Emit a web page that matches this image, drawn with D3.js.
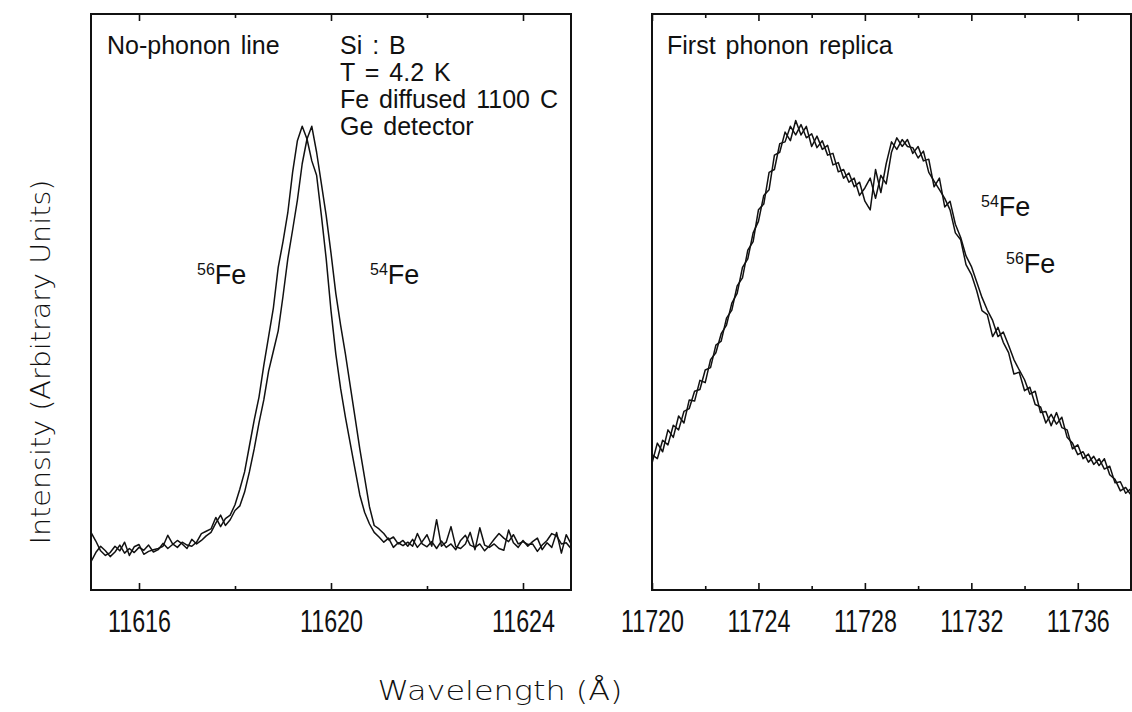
<!DOCTYPE html>
<html lang="en">
<head>
<meta charset="utf-8">
<title>Fe isotope shift - no-phonon line and phonon replica</title>
<script src="https://d3js.org/d3.v7.min.js"></script>
<style>
  body { margin: 0; background: #fff; }
  svg { display: block; }
  .curve { fill: none; stroke: #111; stroke-width: 1.5px; stroke-linejoin: round; }
  .frame { fill: none; stroke: #111; stroke-width: 2px; }
  .axis path { display: none; }
  .axis line { stroke: #111; stroke-width: 1.6px; }
  .tick-lbl { font-family: "Liberation Sans", Arial, sans-serif; font-size: 31px; fill: #111; }
  .note { font-family: "Liberation Sans", Arial, sans-serif; font-size: 25px; fill: #111; word-spacing: 3px; }
  .iso { font-family: "Liberation Sans", Arial, sans-serif; font-size: 27px; fill: #111; }
  .title { font-family: "DejaVu Sans", sans-serif; font-weight: 200; font-size: 27px; fill: #111; }
</style>
</head>
<body>
<svg id="vis" width="1132" height="712"></svg>
<script>
// ---- data (arbitrary intensity units) ----
// no-phonon line, sampled every 0.1 A from 11615 A
var npStart = 11615, npStep = 0.1;
var np56 = [10.0, 8.5, 6.8, 6.0, 6.5, 7.6, 6.8, 8.3, 6.0, 7.5,
  7.9, 6.2, 6.7, 7.0, 7.2, 7.6, 9.5, 8.0, 7.4, 8.3,
  7.8, 7.6, 8.3, 9.8, 10.2, 10.6, 12.6, 11.0, 12.4, 13.0,
  14.8, 17.5, 20.5, 25.0, 29.5, 33.5, 39.0, 44.0, 49.0, 56.0,
  60.5, 65.5, 72.5, 78.0, 80.5, 78.3, 74.5, 72.0, 65.0, 57.5,
  48.5, 41.0, 35.0, 30.0, 25.5, 21.0, 16.5, 13.5, 11.5, 10.0,
  9.2, 8.3, 9.0, 7.4, 8.2, 7.7, 8.3, 7.6, 9.8, 8.0,
  7.5, 8.4, 7.2, 8.5, 7.4, 8.0, 7.0, 8.6, 9.5, 7.8,
  7.4, 8.0, 6.8, 7.7, 8.8, 9.8, 9.0, 8.4, 9.6, 8.0,
  8.4, 7.9, 8.0, 6.7, 7.8, 8.6, 9.8, 9.4, 8.0, 8.2, 7.2];
var np54 = [4.9, 6.5, 7.6, 6.8, 5.8, 6.6, 7.8, 6.4, 7.2, 6.5,
  7.4, 6.9, 7.8, 6.6, 7.0, 8.1, 7.2, 7.9, 8.6, 8.0,
  7.2, 8.8, 8.0, 8.6, 9.4, 10.0, 11.6, 13.0, 11.2, 12.2,
  13.8, 14.6, 17.0, 20.5, 24.5, 29.0, 33.0, 38.0, 41.5, 45.0,
  51.0, 57.5, 62.5, 67.7, 74.0, 78.3, 80.5, 76.0, 70.5, 65.0,
  58.5, 51.5, 46.0, 41.0, 35.5, 30.0, 24.5, 19.5, 14.5, 11.2,
  10.6, 9.8, 8.7, 9.2, 8.0, 8.6, 7.6, 8.8, 7.4, 8.4,
  9.6, 7.6, 12.2, 7.6, 8.3, 11.0, 7.5, 7.2, 8.0, 10.0,
  7.0, 10.8, 7.8, 7.4, 8.0, 7.2, 6.9, 10.4, 8.2, 7.4,
  8.6, 7.6, 8.4, 9.0, 7.0, 8.2, 7.4, 10.0, 6.4, 9.6, 8.0];

// first phonon replica, sampled every 0.2 A from 11720 A
var repStart = 11720, repStep = 0.2;
var rep54 = [22.0, 25.5, 24.0, 27.8, 26.5, 30.2, 29.0, 33.0, 32.8, 36.4,
  36.0, 40.0, 41.2, 44.5, 46.0, 49.8, 51.5, 56.0, 57.5, 62.0,
  64.0, 68.5, 69.5, 75.5, 76.0, 79.5, 78.0, 81.5, 79.0, 80.5,
  77.0, 78.8, 76.5, 77.2, 73.8, 74.2, 71.5, 72.4, 70.0, 70.8,
  67.5, 66.0, 73.0, 69.0, 74.0, 77.8, 76.5, 78.2, 77.0, 76.8,
  75.0, 76.2, 72.5, 71.0, 69.5, 68.0, 66.0, 62.0, 60.8, 56.5,
  54.8, 52.0, 48.5, 47.8, 44.0, 45.6, 43.0, 41.2, 37.5, 37.8,
  34.6, 35.2, 32.2, 31.8, 29.0, 30.5, 28.8, 30.0, 26.5, 25.5,
  23.5, 24.0, 22.2, 23.2, 21.6, 22.8, 20.0, 19.2, 17.2, 17.8, 16.5];
var rep56 = [23.5, 22.8, 26.0, 25.2, 28.6, 27.8, 31.0, 31.5, 34.5, 34.8,
  38.2, 38.6, 42.5, 43.2, 47.2, 48.6, 52.8, 54.2, 59.0, 60.5,
  66.0, 67.0, 72.5, 73.0, 77.5, 77.8, 80.5, 79.0, 80.8, 78.5,
  79.2, 76.8, 78.0, 75.5, 75.8, 72.6, 73.0, 70.8, 71.5, 68.5,
  69.8, 71.5, 68.0, 72.0, 70.5, 76.0, 78.5, 77.0, 78.2, 75.8,
  77.0, 74.5, 74.8, 70.0, 71.5, 66.5, 67.5, 63.5, 61.2, 58.0,
  56.2, 53.5, 50.8, 48.6, 46.8, 44.0, 44.8, 42.5, 40.0, 38.2,
  36.5, 34.0, 34.5, 30.8, 31.0, 28.5, 30.8, 28.2, 27.8, 24.5,
  25.2, 22.8, 23.6, 21.8, 22.8, 21.0, 21.5, 18.6, 18.8, 16.8, 17.6];

var npTicks = [11616, 11620, 11624], npMinor = [11618, 11622];
var repTicks = [11720, 11724, 11728, 11732, 11736], repMinor = [11722, 11726, 11730, 11734, 11738];

var svg = d3.select("#vis"),
    yTop = 14, yBot = 590;

var y = d3.scaleLinear().domain([0, 100]).range([yBot, yTop]);

function pts(vals, start, step) {
  return vals.map(function(v, i) { return [start + i * step, v]; });
}

function panel(id, x0, x1, domain, ticks, minor, series) {
  var x = d3.scaleLinear().domain(domain).range([x0, x1]);
  var g = svg.append("g").attr("id", id);

  g.append("clipPath").attr("id", "clip-" + id)
    .append("rect").attr("x", x0).attr("y", yTop).attr("width", x1 - x0).attr("height", yBot - yTop);

  var line = d3.line()
      .x(function(d) { return x(d[0]); })
      .y(function(d) { return y(d[1]); });

  g.selectAll("path.curve")
    .data(series)
    .enter().append("path")
      .attr("class", "curve")
      .attr("clip-path", "url(#clip-" + id + ")")
      .attr("d", line);

  // ticks point inwards, labels only at the bottom
  var bot = g.append("g").attr("class", "axis").attr("transform", "translate(0," + yBot + ")")
    .call(d3.axisBottom(x).tickValues(ticks).tickSizeInner(-7).tickSizeOuter(0).tickPadding(20).tickFormat(d3.format("d")));
  bot.selectAll("text").attr("class", "tick-lbl").attr("textLength", 63).attr("lengthAdjust", "spacingAndGlyphs");
  g.append("g").attr("class", "axis").attr("transform", "translate(0," + yBot + ")")
    .call(d3.axisBottom(x).tickValues(minor).tickSizeInner(-4).tickSizeOuter(0).tickFormat(""));
  g.append("g").attr("class", "axis").attr("transform", "translate(0," + yTop + ")")
    .call(d3.axisTop(x).tickValues(ticks).tickSizeInner(-7).tickSizeOuter(0).tickFormat(""));
  g.append("g").attr("class", "axis").attr("transform", "translate(0," + yTop + ")")
    .call(d3.axisTop(x).tickValues(minor).tickSizeInner(-4).tickSizeOuter(0).tickFormat(""));

  g.append("rect").attr("class", "frame")
    .attr("x", x0).attr("y", yTop).attr("width", x1 - x0).attr("height", yBot - yTop);
  return g;
}

var left = panel("np", 91, 571, [11615, 11625], npTicks, npMinor,
  [pts(np56, npStart, npStep), pts(np54, npStart, npStep)]);
var right = panel("rep", 652, 1131, [11720, 11738], repTicks, repMinor,
  [pts(rep54, repStart, repStep), pts(rep56, repStart, repStep)]);

function note(g, x, yy, s) {
  g.append("text").attr("class", "note").attr("x", x).attr("y", yy).text(s);
}
note(left, 107, 54, "No-phonon line");
note(left, 340, 54, "Si : B");
note(left, 340, 81, "T = 4.2 K");
note(left, 340, 108, "Fe diffused 1100 C");
note(left, 340, 135, "Ge detector");
note(right, 667, 54, "First phonon replica");

function iso(g, x, yy, mass) {
  var t = g.append("text").attr("class", "iso").attr("x", x).attr("y", yy);
  t.append("tspan").attr("font-size", "16px").attr("dy", "-9").text(mass);
  t.append("tspan").attr("dy", "9").text("Fe");
}
iso(left, 197, 284, "56");
iso(left, 370, 284, "54");
iso(right, 981, 216, "54");
iso(right, 1006, 273, "56");

svg.append("text").attr("class", "title")
  .attr("x", 500).attr("y", 700).attr("text-anchor", "middle")
  .attr("textLength", 245).attr("lengthAdjust", "spacingAndGlyphs")
  .text("Wavelength  (\u00c5)");

svg.append("text").attr("class", "title")
  .attr("transform", "translate(50,362) rotate(-90)")
  .attr("text-anchor", "middle")
  .attr("textLength", 365).attr("lengthAdjust", "spacingAndGlyphs")
  .text("Intensity (Arbitrary Units)");
</script>
</body>
</html>
